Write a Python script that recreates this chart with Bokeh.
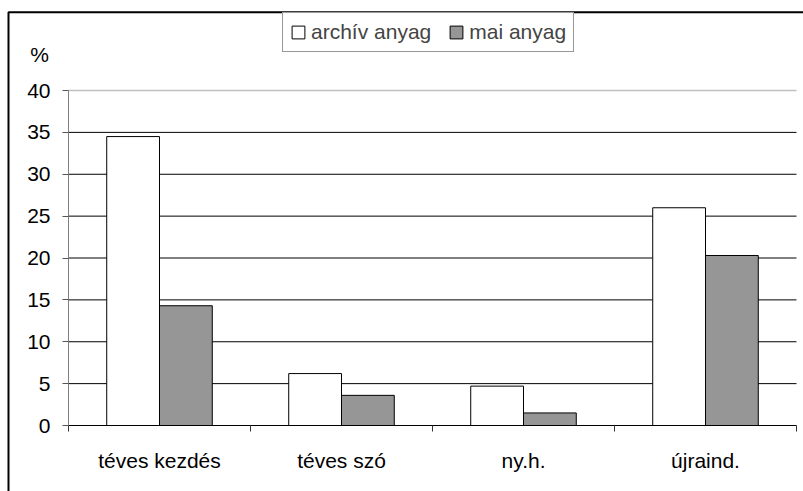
import numpy as np
from bokeh.plotting import figure
from bokeh.models import (Range1d, FixedTicker, Label, Legend, LegendItem,
                          BoxAnnotation, ColumnDataSource)
from bokeh.embed import file_html
from bokeh.resources import INLINE

categories = ["téves kezdés", "téves szó", "ny.h.", "újraind."]
archiv = [34.5, 6.2, 4.7, 26.0]
mai = [14.3, 3.6, 1.5, 20.3]
y_ticks = [0, 5, 10, 15, 20, 25, 30, 35, 40]
series_names = ["archív anyag", "mai anyag"]
y_unit = "%"

FONT = "Liberation Sans"
FS = "21px"
W, H = 803, 491

# pixel layout of the plot area inside the canvas
PL, PR, PT, PB = 68, 796, 90, 425
n = len(categories)
ymax = y_ticks[-1]
sx = (PR - PL) / n
sy = (PB - PT) / ymax
x_range = Range1d(-PL / sx, n + (W - PR) / sx)
y_range = Range1d(-(H - PB) / sy, ymax + PT / sy)

p = figure(width=W, height=H, output_backend="svg", toolbar_location=None,
           x_range=x_range, y_range=y_range,
           min_border_left=0, min_border_right=0, min_border_top=0,
           min_border_bottom=0)
p.outline_line_color = None
p.background_fill_color = "white"
p.border_fill_color = "white"
p.xgrid.visible = False
p.ygrid.visible = False

# horizontal grid lines
gy = np.array(y_ticks[1:-1], dtype=float)
p.segment(x0=np.zeros_like(gy), x1=np.full_like(gy, n), y0=gy, y1=gy,
          line_color="black", line_width=1)
p.segment(x0=[0], x1=[n], y0=[ymax], y1=[ymax], line_color="#c0c0c0", line_width=1.5)

xs = np.arange(n) + 0.5
bw = 0.29
src = ColumnDataSource(dict(x1=xs - bw / 2, x2=xs + bw / 2, a=archiv, m=mai))
r1 = p.vbar(x="x1", top="a", bottom=0, width=bw, source=src,
            fill_color="white", line_color="black", line_width=1)
r2 = p.vbar(x="x2", top="m", bottom=0, width=bw, source=src,
            fill_color="#969696", line_color="black", line_width=1)

# x axis
xa = p.xaxis[0]
xa.fixed_location = 0
xa.bounds = (0, n)
xa.ticker = FixedTicker(ticks=list(xs), minor_ticks=list(range(n + 1)))
xa.major_label_overrides = {float(x): c for x, c in zip(xs, categories)}
xa.major_tick_line_color = None
xa.major_tick_in = 0
xa.major_tick_out = 0
xa.minor_tick_in = 0
xa.minor_tick_out = 6
xa.minor_tick_line_color = "#333333"
xa.axis_line_color = "black"
xa.major_label_standoff = 17
xa.major_label_text_font = FONT
xa.major_label_text_font_size = FS
xa.major_label_text_color = "black"

# y axis
ya = p.yaxis[0]
ya.fixed_location = 0
ya.bounds = (0, ymax)
ya.ticker = FixedTicker(ticks=y_ticks, minor_ticks=[])
ya.major_tick_in = 0
ya.major_tick_out = 6
ya.major_tick_line_color = "#555555"
ya.axis_line_color = "#808080"
ya.major_label_standoff = 12
ya.major_label_text_font = FONT
ya.major_label_text_font_size = FS
ya.major_label_text_color = "black"

legend = Legend(items=[LegendItem(label=series_names[0], renderers=[r1]),
                       LegendItem(label=series_names[1], renderers=[r2])],
                location=(282, H - 52), orientation="horizontal", margin=0,
                padding=7, spacing=17, glyph_width=16, glyph_height=16,
                label_standoff=5, label_text_font=FONT, label_text_font_size=FS,
                label_height=23, border_line_color="#333333", border_line_width=1,
                background_fill_color="white", background_fill_alpha=1)
p.add_layout(legend)

p.add_layout(Label(x=39, y=H - 54, x_units="screen", y_units="screen", text=y_unit,
                   text_font=FONT, text_font_size=FS, text_align="center",
                   text_baseline="middle", text_color="black"))

p.add_layout(BoxAnnotation(left=8, top=11.75, right=3000, bottom=3000,
                           left_units="canvas", right_units="canvas",
                           top_units="canvas", bottom_units="canvas",
                           fill_color=None, fill_alpha=0, line_color="black",
                           line_width=2, line_alpha=1))

open("out.html", "w").write(file_html(p, INLINE))
